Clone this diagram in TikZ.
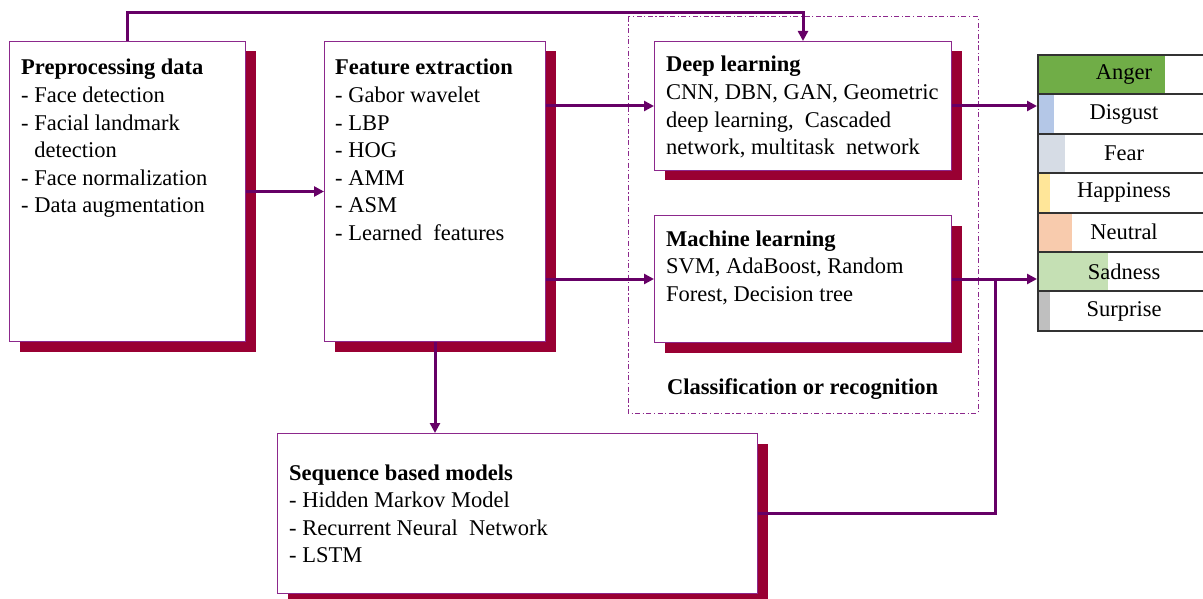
\documentclass[tikz,border=0pt]{standalone}
\usepackage{fontspec}
\setmainfont{Liberation Serif}
\usetikzlibrary{arrows.meta,shadows}
\definecolor{shadowred}{RGB}{153,0,51}
\definecolor{boxline}{RGB}{140,40,140}
\definecolor{connc}{RGB}{102,0,102}
\definecolor{tblline}{RGB}{50,50,50}
\definecolor{angerc}{HTML}{70AD47}
\definecolor{disgustc}{HTML}{B4C7E7}
\definecolor{fearc}{HTML}{D6DCE5}
\definecolor{happyc}{HTML}{FFE699}
\definecolor{neutralc}{HTML}{F8CBAD}
\definecolor{sadc}{HTML}{C5E0B4}
\definecolor{surprisec}{HTML}{BFBFBF}
\newcommand{\txtfont}{\fontsize{22.5}{27.6}\selectfont}
\tikzset{
  panel/.style={draw=boxline, line width=1pt, fill=white, rectangle, anchor=north west, inner sep=0pt,
    drop shadow={shadow xshift=10pt, shadow yshift=-10pt, fill=shadowred, opacity=1}},
  txt/.style={anchor=base west, inner sep=0pt, font=\txtfont},
  conn/.style={draw=connc, line width=3pt},
  arr/.style={conn, -{Triangle[length=10pt,width=10pt]}},
  emorow/.style={draw=tblline, line width=2pt, rectangle, anchor=north west, inner sep=0pt,
    minimum width=172pt, minimum height=39.4pt, font=\txtfont},
  groupbox/.style={draw=boxline, line width=1pt, dash pattern=on 5pt off 2.5pt on 1.2pt off 2.5pt}
}
\begin{document}
\begin{tikzpicture}[x=1pt,y=-1pt]
\useasboundingbox (0,0) rectangle (1203,599);
% group box
\draw[groupbox] (628,17) rectangle (978,413);
% panels
\node[panel, minimum width=236pt, minimum height=300pt] (pre) at (9,41) {};
\node[panel, minimum width=221pt, minimum height=300pt] (feat) at (324,41) {};
\node[panel, minimum width=297pt, minimum height=129pt] (deep) at (654,41) {};
\node[panel, minimum width=297pt, minimum height=127pt] (ml) at (654,215) {};
\node[panel, minimum width=480pt, minimum height=160pt] (seq) at (277,433) {};
% texts
\node[txt] (pretxt) at (21,75) {\begin{tabular}[t]{@{}l@{}}
\textbf{Preprocessing data}\\
- Face detection\\
- Facial landmark\\
\hphantom{- }detection\\
- Face normalization\\
- Data augmentation
\end{tabular}};
\node[txt] (feattxt) at (335,75) {\begin{tabular}[t]{@{}l@{}}
\textbf{Feature extraction}\\
- Gabor wavelet\\
- LBP\\
- HOG\\
- AMM\\
- ASM\\
- Learned~ features
\end{tabular}};
\node[txt] (deeptxt) at (666,72) {\begin{tabular}[t]{@{}l@{}}
\textbf{Deep learning}\\
CNN, DBN, GAN, Geometric\\
deep learning,~ Cascaded\\
network, multitask~ network
\end{tabular}};
\node[txt] (mltxt) at (666,246) {\begin{tabular}[t]{@{}l@{}}
\textbf{Machine learning}\\
SVM, AdaBoost, Random\\
Forest, Decision tree
\end{tabular}};
\node[txt] (cls) at (667,394) {\textbf{Classification or recognition}};
\node[txt] (seqtxt) at (289,480) {\begin{tabular}[t]{@{}l@{}}
\textbf{Sequence based models}\\
- Hidden Markov Model\\
- Recurrent Neural~ Network\\
- LSTM
\end{tabular}};
% emotion table fills
\fill[angerc] (1037,54) rectangle (1165,93.4);
\fill[disgustc] (1037,93.4) rectangle (1054,132.8);
\fill[fearc] (1037,132.8) rectangle (1065,172.2);
\fill[happyc] (1037,172.2) rectangle (1050,211.6);
\fill[neutralc] (1037,211.6) rectangle (1072,251);
\fill[sadc] (1037,251) rectangle (1108,290.4);
\fill[surprisec] (1037,290.4) rectangle (1050,329.8);
\node[emorow] (anger) at (1037,54) {Anger};
\node[emorow] (disgust) at (1037,93.4) {Disgust};
\node[emorow] (fear) at (1037,132.8) {Fear};
\node[emorow] (happy) at (1037,172.2) {Happiness};
\node[emorow] (neutral) at (1037,211.6) {Neutral};
\node[emorow] (sad) at (1037,251) {Sadness};
\node[emorow] (surprise) at (1037,290.4) {Surprise};
% connectors
\draw[arr] (pre.north) -- ++(0,-28) -| (deep.north);
\draw[arr] (pre.east) -- (feat.west);
\draw[arr] (feat.east |- deep.west) -- (deep.west);
\draw[arr] (feat.east |- ml.west) -- (ml.west);
\draw[arr] (feat.south) -- (seq.north -| feat.south);
\draw[arr] (deep.east) -- (deep.east -| disgust.west);
\draw[arr] (ml.east) -- (ml.east -| sad.west);
\coordinate (j) at ([xshift=43pt]ml.east);
\draw[conn] (seq.east) -| (j);
\end{tikzpicture}
\end{document}
